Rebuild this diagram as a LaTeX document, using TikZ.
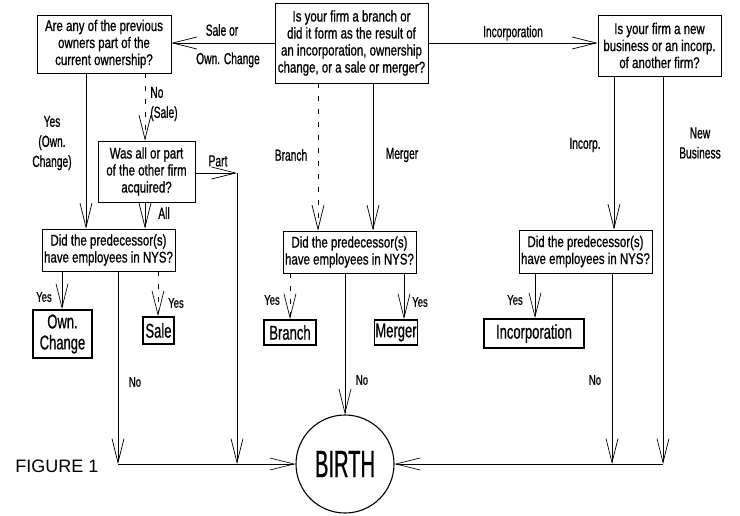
\documentclass[tikz,border=0pt]{standalone}
\usepackage{fontspec}
\setmainfont{Liberation Sans}
\newfontfamily\boxf{Liberation Sans}[FakeStretch=0.74,FakeBold=0.8]
\newfontfamily\lblf{Liberation Sans}[FakeStretch=0.64,FakeBold=0.8]
\newfontfamily\smf{Liberation Sans}[FakeStretch=0.68,FakeBold=0.8]
\newfontfamily\outf{Liberation Sans}[FakeStretch=0.65,FakeBold=0.6]
\newfontfamily\birthf{Liberation Sans}[FakeStretch=0.53,FakeBold=0.6]
\usetikzlibrary{arrows.meta}
\begin{document}
\begin{tikzpicture}[x=1pt,y=-1pt,line width=0.8pt,
  arr/.style={-{Straight Barb[length=24pt,width=12pt,line width=0.7pt]}},
  dsh/.style={dash pattern=on 5pt off 8pt},
  qbox/.style={draw,line width=0.9pt,align=center,inner sep=0pt,font=\boxf\fontsize{15.5}{17}\selectfont},
  obox/.style={draw,line width=1.6pt,align=center,inner sep=1pt,font=\outf\fontsize{20}{21}\selectfont},
  lbl/.style={align=center,inner sep=0pt,font=\lblf\fontsize{16}{20}\selectfont},
  sm/.style={align=center,inner sep=0pt,font=\smf\fontsize{14}{15}\selectfont}]
\useasboundingbox (0,0) rectangle (740,515);

% question boxes
\node[qbox,minimum width=153pt,minimum height=80pt] (q0) at (351.5,43) {Is your firm a branch or\\did it form as the result of\\an incorporation, ownership\\change, or a sale or merger?};
\node[qbox,minimum width=134pt,minimum height=58pt] (q1) at (104,44) {Are any of the previous\\owners part of the\\current ownership?};
\node[qbox,minimum width=123pt,minimum height=61pt] (q2) at (659.5,45.5) {Is your firm a new\\business or an incorp.\\of another firm?};
\node[qbox,minimum width=97pt,minimum height=61pt] (q3) at (146.5,171.5) {Was all or part\\of the other firm\\acquired?};
\node[qbox,minimum width=133pt,minimum height=42pt] (p1) at (108.5,250) {Did the predecessor(s)\\have employees in NYS?};
\node[qbox,minimum width=133pt,minimum height=42pt] (p2) at (349.5,252) {Did the predecessor(s)\\have employees in NYS?};
\node[qbox,minimum width=133pt,minimum height=43pt] (p3) at (585.5,251.5) {Did the predecessor(s)\\have employees in NYS?};

% outcome boxes
\node[obox,minimum width=59pt,minimum height=48pt] (oc) at (62.5,334) {Own.\\Change};
\node[obox,minimum width=31pt,minimum height=27pt] (sale) at (158.5,330.5) {Sale};
\node[obox,minimum width=52pt,minimum height=25pt] (branch) at (290,332.5) {Branch};
\node[obox,minimum width=42pt,minimum height=25pt] (merger) at (396,332.5) {Merger};
\node[obox,minimum width=100pt,minimum height=29pt] (incorp) at (534,333.5) {Incorporation};

\node[draw,circle,line width=1.1pt,minimum size=98pt,inner sep=0pt,font=\birthf\fontsize{38}{40}\selectfont] (birth) at (345,464) {BIRTH};
\node[font=\fontsize{18}{20}\selectfont,inner sep=0pt] (fig) at (57,466) {FIGURE 1};

% top connectors
\draw[arr] (q0.west) -- (q0.west -| q1.east);
\draw[arr] (q0.east) -- (q0.east -| q2.west);
\node[lbl] (l1) at (222,30) {Sale or};
\node[lbl] (l2) at (228,60) {Own. Change};
\node[lbl] (l3) at (513,33) {Incorporation};

% left branch
\draw[arr] (86,0 |- q1.south) -- (86,0 |- p1.north);
\draw[arr,dsh] (145,0 |- q1.south) -- (145,0 |- q3.north);
\draw[arr] (145,0 |- q3.south) -- (145,0 |- p1.north);
\coordinate (pc) at (237,173);
\coordinate (pb) at (237,464);
\draw[arr] (q3.east |- pc) -- (pc);
\draw[arr] (pc) -- (pb);
\node[lbl] (l4) at (52,143) {Yes\\(Own.\\Change)};
\node[lbl,align=left] (l5) at (164,104) {No\\(Sale)};
\node[lbl] (l6) at (164,213) {All};
\node[lbl] (l7) at (218,161) {Part};

\draw[arr] (62,0 |- p1.south) -- (62,0 |- oc.north);
\draw[arr,dsh] (158,0 |- p1.south) -- (158,0 |- sale.north);
\coordinate (nb1) at (118,464);
\draw[arr] (118,0 |- p1.south) -- (nb1);
\draw[arr] (nb1) -- (birth.west);
\node[sm] (y1) at (44,297) {Yes};
\node[sm] (y2) at (176,303) {Yes};
\node[sm] (n1) at (135,382) {No};

% middle branch
\draw[arr,dsh] (318,0 |- q0.south) -- (318,0 |- p2.north);
\draw[arr] (373,0 |- q0.south) -- (373,0 |- p2.north);
\node[lbl] (l8) at (291,155) {Branch};
\node[lbl] (l9) at (402,155) {Merger};
\draw[arr,dsh] (290,0 |- p2.south) -- (branch.north);
\draw[arr] (404,0 |- p2.south) -- (404,0 |- merger.north);
\draw[arr] (p2.south -| birth.north) -- (birth.north);
\node[sm] (y3) at (272,300) {Yes};
\node[sm] (y4) at (420,302) {Yes};
\node[sm] (n2) at (362,380) {No};

% right branch
\draw[arr] (614,0 |- q2.south) -- (614,0 |- p3.north);
\draw[arr] (535,0 |- p3.south) -- (535,0 |- incorp.north);
\coordinate (nb3) at (612,464);
\draw[arr] (612,0 |- p3.south) -- (nb3);
\coordinate (nb4) at (663,464);
\draw[arr] (663,0 |- q2.south) -- (nb4);
\draw[arr] (nb4) -- (birth.east);
\node[lbl] (l10) at (585,145) {Incorp.};
\node[lbl] (l11) at (700,143) {New\\Business};
\node[sm] (y5) at (515,300) {Yes};
\node[sm] (n3) at (595,380) {No};
\end{tikzpicture}
\end{document}
